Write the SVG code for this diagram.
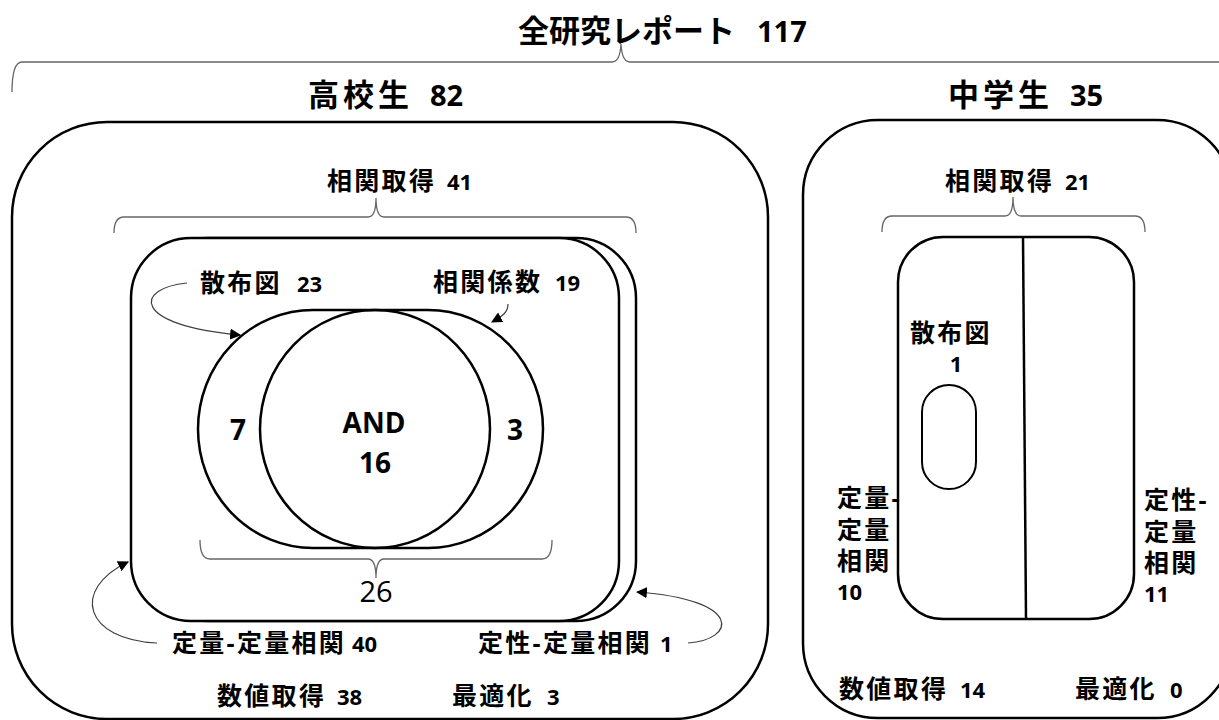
<svg xmlns="http://www.w3.org/2000/svg" width="1219" height="720" viewBox="0 0 1219 720">
<defs>
<style>
text{font-family:'Open Sans','Noto Sans CJK JP',sans-serif;fill:#000;font-weight:bold}
.h{font-size:31px}
.hn{font-size:29px}
.l{font-size:25px;letter-spacing:2.3px}
.n{font-size:22px}
.v{font-size:28px}
.r{font-size:29px;font-weight:normal}
.box{fill:#fff;stroke:#000;stroke-width:2.5}
.ven{fill:none;stroke:#000;stroke-width:2.5}
.brace{fill:none;stroke:#666;stroke-width:1.3}
.arr{fill:none;stroke:#404040;stroke-width:1.2;marker-end:url(#ah)}
</style>
<marker id="ah" viewBox="0 0 10 10" refX="9" refY="5" markerWidth="11" markerHeight="11" markerUnits="userSpaceOnUse" orient="auto">
<path d="M0,0 L10,5 L0,10 z" fill="#000"/>
</marker>
</defs>
<rect width="1219" height="720" fill="#fff"/>

<g id="title">
<text x="518" y="42"><tspan class="h">全研究レポート</tspan><tspan class="hn" x="757">117</tspan></text>
</g>

<g id="highschool">
<rect class="box" x="12" y="122" width="756" height="597" rx="95" ry="95"/>
<text x="308" y="106"><tspan class="h" letter-spacing="4">高校生</tspan><tspan class="hn" x="430">82</tspan></text>
<text x="327" y="190"><tspan class="l">相関取得</tspan><tspan class="n" x="447">41</tspan></text>
<text x="217" y="705"><tspan class="l">数値取得</tspan><tspan class="n" x="337">38</tspan></text>
<text x="452" y="705"><tspan class="l">最適化</tspan><tspan class="n" x="547">3</tspan></text>
</g>

<g id="hs-cards">
<rect class="box" x="148" y="238" width="488" height="383" rx="60" ry="60"/>
<rect class="box" x="131" y="238" width="488" height="383" rx="60" ry="60"/>
</g>

<g id="venn">
<rect class="ven" x="198" y="310" width="292" height="238" rx="115" ry="119"/>
<rect class="ven" x="260" y="310" width="283" height="238" rx="115" ry="119"/>
<text class="v" x="238" y="440" text-anchor="middle">7</text>
<text class="v" x="515" y="440" text-anchor="middle">3</text>
<text class="v" x="374" y="433" text-anchor="middle">AND</text>
<text class="v" x="375" y="473" text-anchor="middle">16</text>
<text class="r" x="376" y="602" text-anchor="middle">26</text>
</g>

<g id="hs-labels">
<text x="200" y="292"><tspan class="l">散布図</tspan><tspan class="n" x="297">23</tspan></text>
<text x="433" y="291"><tspan class="l">相関係数</tspan><tspan class="n" x="555">19</tspan></text>
<text x="172" y="652"><tspan class="l">定量-定量相関</tspan><tspan class="n" x="352">40</tspan></text>
<text x="478" y="652"><tspan class="l">定性-定量相関</tspan><tspan class="n" x="660">1</tspan></text>
</g>

<g id="middleschool">
<rect class="box" x="803" y="120" width="429" height="598" rx="75" ry="75"/>
<text x="948" y="106"><tspan class="h" letter-spacing="4">中学生</tspan><tspan class="hn" x="1070">35</tspan></text>
<text x="945" y="190"><tspan class="l">相関取得</tspan><tspan class="n" x="1065">21</tspan></text>
<rect class="box" x="898" y="237" width="236" height="382" rx="45" ry="45"/>
<path d="M1023,237 L1026,619" fill="none" stroke="#000" stroke-width="2.5"/>
<rect x="922" y="385" width="54" height="104" rx="27" ry="27" fill="none" stroke="#000" stroke-width="2"/>
<text x="910" y="342" class="l">散布図</text>
<text x="956" y="372" class="n" text-anchor="middle">1</text>
<text x="837" y="507" class="l">定量-</text>
<text x="837" y="539" class="l">定量</text>
<text x="837" y="570" class="l">相関</text>
<text x="837" y="600" class="n">10</text>
<text x="1144" y="509" class="l">定性-</text>
<text x="1144" y="541" class="l">定量</text>
<text x="1144" y="572" class="l">相関</text>
<text x="1144" y="602" class="n">11</text>
<text x="839" y="698"><tspan class="l">数値取得</tspan><tspan class="n" x="960">14</tspan></text>
<text x="1075" y="698"><tspan class="l">最適化</tspan><tspan class="n" x="1170">0</tspan></text>
</g>

<g id="connectors">
<path class="brace" d="M12,92 Q12,62 22,62 L612,62 Q620,62 621,44 Q622,62 630,62 L1230,62"/>
<path class="brace" d="M114,233 Q114,217 124,217 L368,217 Q376,217 376,198 Q376,217 384,217 L626,217 Q636,217 636,233"/>
<path class="brace" d="M882,232 Q882,216 892,216 L1005,216 Q1013,216 1013,197 Q1013,216 1021,216 L1135,216 Q1145,216 1145,232"/>
<path class="brace" d="M200,540 Q200,559 210,559 L368,559 Q376,559 376,578 Q376,559 384,559 L542,559 Q552,559 552,540"/>
<path class="arr" d="M187,283 C135,288 130,325 240,335"/>
<path class="arr" d="M508,304 C508,312 503,316 492,322"/>
<path class="arr" d="M157,643 C85,640 70,590 128,562"/>
<path class="arr" d="M688,643 C735,640 745,600 637,592"/>
</g>
</svg>
